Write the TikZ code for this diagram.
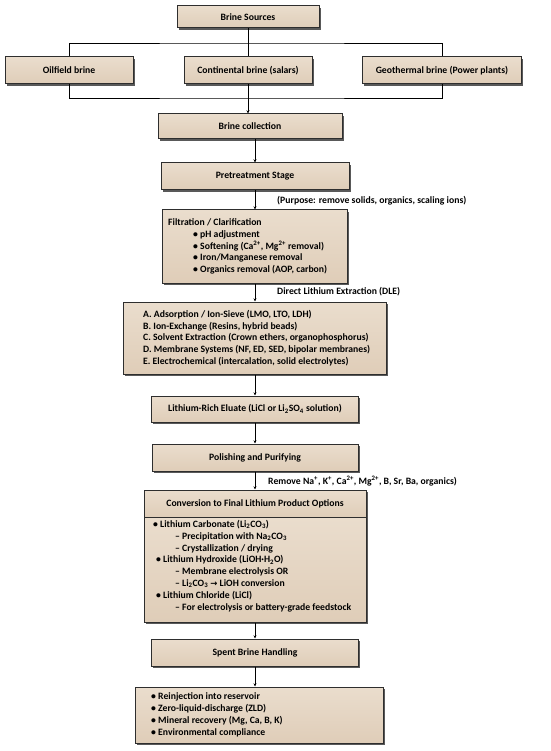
\documentclass[tikz,border=0pt]{standalone}
\usepackage{fontspec}
\setmainfont{Carlito}
\newfontfamily\dejavu{DejaVu Sans}
\usetikzlibrary{shadows,arrows.meta}
\definecolor{boxtop}{HTML}{EADDCD}
\definecolor{boxbot}{HTML}{DFCDB8}
\definecolor{boxline}{HTML}{2E2E2E}
\newcommand\fsz{\fontsize{9.7}{11.8}\selectfont\bfseries}
\begin{document}
\begin{tikzpicture}[x=1pt,y=-1pt,
  box/.style={draw=boxline, line width=1pt, top color=boxtop, bottom color=boxbot,
    drop shadow={shadow xshift=1.6pt, shadow yshift=-1.6pt, fill=black!65, opacity=1},
    inner sep=0pt, font=\fsz, align=center},
  txt/.style={inner sep=0pt, font=\fsz, align=left, anchor=west},
  lbl/.style={inner sep=0pt, font=\fsz, anchor=west},
  link/.style={draw=black, line width=0.9pt},
  arr/.style={draw=black, line width=0.8pt, -{Stealth[length=3.2pt,width=3pt]}}]
\useasboundingbox (0,0) rectangle (550,751);
\fill[white] (0,0) rectangle (550,751);

% top part
\node[box, minimum width=142pt, minimum height=22pt] (src) at (248,17) {Brine Sources};
\node[box, minimum width=128pt, minimum height=27pt] (oil) at (69,70.5) {Oilfield brine};
\node[box, minimum width=128pt, minimum height=27pt] (cont) at (248,70.5) {Continental brine (salars)};
\node[box, minimum width=159pt, minimum height=27pt] (geo) at (442,70.5) {Geothermal brine (Power plants)};
\node[box, minimum width=184pt, minimum height=25pt] (coll) at (250,126.5) {Brine collection};

\coordinate (barT) at (248,43);
\coordinate (barB) at (248,98);
\draw[link] (src.south) -- (cont.north);
\draw[link] (oil.north) |- (barT) -| (geo.north);
\draw[link] (oil.south) |- (barB) -| (geo.south);
\draw[arr] (cont.south) -- (cont.south |- coll.north);

% pretreatment
\node[box, minimum width=188pt, minimum height=27pt] (pre) at (255,176.5) {Pretreatment Stage};
\draw[arr] (coll.south -| pre.north) -- (pre.north);
\node[lbl] (purp) at (277,201) {(Purpose: remove solids, organics, scaling ions)};

\node[box, minimum width=185pt, minimum height=73pt] (filt) at (255,246.5) {};
\node[txt] (filtT) at (168,246.5) {Filtration / Clarification\\
\hspace*{25pt}• pH adjustment\\
\hspace*{25pt}• Softening (Ca\textsuperscript{2+}, Mg\textsuperscript{2+} removal)\\
\hspace*{25pt}• Iron/Manganese removal\\
\hspace*{25pt}• Organics removal (AOP, carbon)};
\draw[arr] (pre.south) -- (filt.north);
\node[lbl] (dlel) at (277,292) {Direct Lithium Extraction (DLE)};

\node[box, minimum width=263pt, minimum height=72pt] (dle) at (255,338) {};
\node[txt] (dleT) at (143,338) {A. Adsorption / Ion-Sieve (LMO, LTO, LDH)\\
B. Ion-Exchange (Resins, hybrid beads)\\
C. Solvent Extraction (Crown ethers, organophosphorus)\\
D. Membrane Systems (NF, ED, SED, bipolar membranes)\\
E. Electrochemical (intercalation, solid electrolytes)};
\draw[arr] (filt.south) -- (dle.north);

\node[box, minimum width=207pt, minimum height=26pt] (elu) at (255,409) {Lithium-Rich Eluate (LiCl or Li\textsubscript{2}SO\textsubscript{4} solution)};
\draw[arr] (dle.south) -- (elu.north);

\node[box, minimum width=206pt, minimum height=27pt] (pol) at (255,457.5) {Polishing and Purifying};
\draw[arr] (elu.south) -- (pol.north);
\node[lbl] (reml) at (268,481) {Remove Na\textsuperscript{+}, K\textsuperscript{+}, Ca\textsuperscript{2+}, Mg\textsuperscript{2+}, B, Sr, Ba, organics)};

\node[box, minimum width=222pt, minimum height=27pt] (convh) at (255,503.5) {Conversion to Final Lithium Product Options};
\node[box, minimum width=222pt, minimum height=105pt] (convb) at (255,569.5) {};
\node[txt] (convT) at (153,566) {• Lithium Carbonate (Li\textsubscript{2}CO\textsubscript{3})\\
\hspace*{22pt}– Precipitation with Na\textsubscript{2}CO\textsubscript{3}\\
\hspace*{22pt}– Crystallization / drying\\
\hspace*{3pt}• Lithium Hydroxide (LiOH·H\textsubscript{2}O)\\
\hspace*{22pt}– Membrane electrolysis OR\\
\hspace*{22pt}– Li\textsubscript{2}CO\textsubscript{3} {\dejavu\fontsize{8.5}{10}\selectfont →} LiOH conversion\\
\hspace*{3pt}• Lithium Chloride (LiCl)\\
\hspace*{22pt}– For electrolysis or battery-grade feedstock};
\draw[arr] (pol.south) -- (convh.north);

\node[box, minimum width=207pt, minimum height=27pt] (spent) at (255,652.5) {Spent Brine Handling};
\draw[arr] (convb.south) -- (spent.north);

\node[box, minimum width=248pt, minimum height=56pt] (fin) at (259,715) {};
\node[txt] (finT) at (151,715) {• Reinjection into reservoir\\
• Zero-liquid-discharge (ZLD)\\
• Mineral recovery (Mg, Ca, B, K)\\
• Environmental compliance};
\draw[arr] (spent.south) -- (spent.south |- fin.north);
\end{tikzpicture}
\end{document}
